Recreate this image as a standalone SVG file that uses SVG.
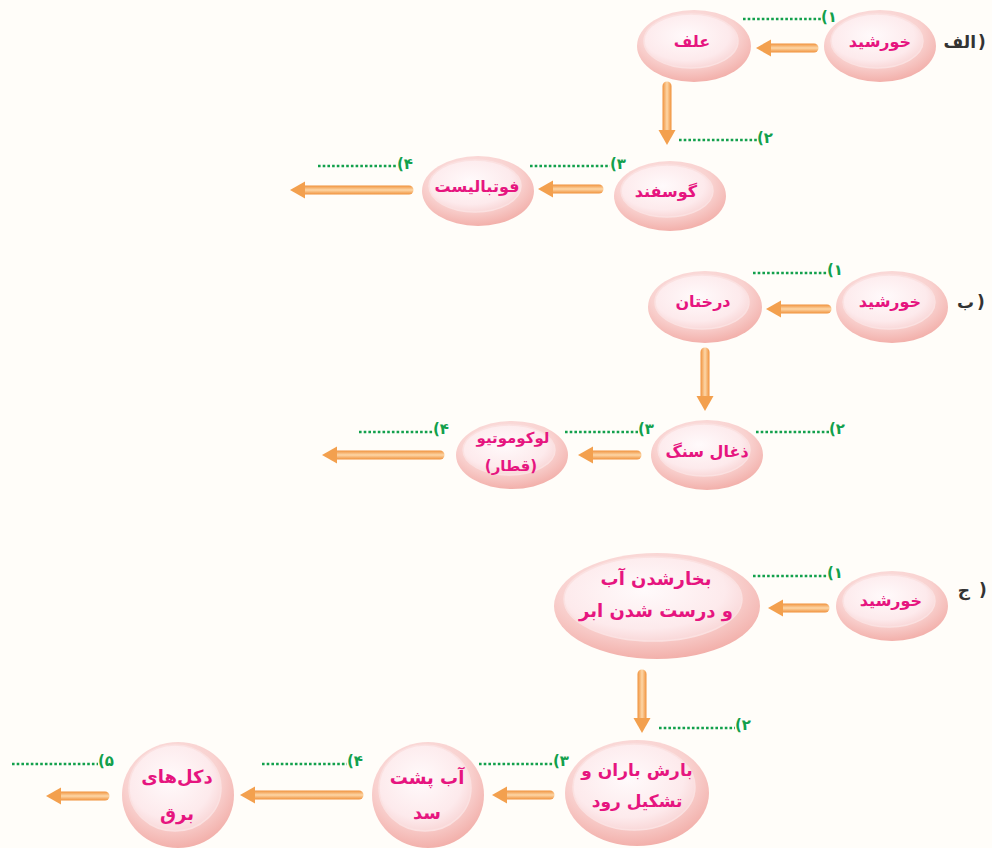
<svg xmlns="http://www.w3.org/2000/svg" width="992" height="848" viewBox="0 0 992 848">
  <defs>
    <radialGradient id="gOuter" cx="45%" cy="35%" r="70%">
      <stop offset="0" stop-color="#fdeced"/>
      <stop offset="0.6" stop-color="#f9d2d0"/>
      <stop offset="1" stop-color="#f1a9a3"/>
    </radialGradient>
    <radialGradient id="gInner" cx="45%" cy="40%" r="65%">
      <stop offset="0" stop-color="#fffafb"/>
      <stop offset="0.7" stop-color="#fdeaec"/>
      <stop offset="1" stop-color="#f8d3d3"/>
    </radialGradient>
    <linearGradient id="shaftH" x1="0" y1="0" x2="0" y2="1">
      <stop offset="0" stop-color="#f0913b"/>
      <stop offset="0.5" stop-color="#fdd6a6"/>
      <stop offset="1" stop-color="#f0913b"/>
    </linearGradient>
    <linearGradient id="shaftV" x1="0" y1="0" x2="1" y2="0">
      <stop offset="0" stop-color="#f0913b"/>
      <stop offset="0.5" stop-color="#fdd6a6"/>
      <stop offset="1" stop-color="#f0913b"/>
    </linearGradient>
    <style>
      .outer { fill: url(#gOuter); }
      .inner { fill: url(#gInner); stroke: #fbe1e1; stroke-width: 1.5; }
      .lbl { font-family: "DejaVu Sans", sans-serif; font-weight: bold; fill: #e6157f; text-anchor: middle; }
      .sec { font-family: "DejaVu Sans", sans-serif; font-weight: bold; fill: #333333; font-size: 17px; }
      .word { text-anchor: end; }
      .par { direction: ltr; unicode-bidi: bidi-override; text-anchor: start; }
      .num { font-family: "DejaVu Sans", sans-serif; font-weight: bold; fill: #12a04c; font-size: 15px; }
      .dots { stroke: #12a04c; stroke-width: 2.6; stroke-dasharray: 2.6 2.1; fill: none; }
      .sh { fill: url(#shaftH); }
      .sv { fill: url(#shaftV); }
      .hd { fill: #f3a04e; }
    </style>
  </defs>

  <rect width="992" height="848" fill="#fffdf9"/>

  <!-- section letters: word, then a closing bracket on its right -->
  <g id="sections">
    <text class="sec word" x="976" y="48">الف</text>
    <text class="sec par" x="978" y="48">)</text>
    <text class="sec word" x="974" y="308">ب</text>
    <text class="sec par" x="977" y="308">)</text>
    <text class="sec word" x="970" y="596">ج</text>
    <text class="sec par" x="979" y="596">)</text>
  </g>

  <!-- connectors: gradient shaft + solid head -->
  <g id="connectors">
    <!-- row A -->
    <path class="sh" d="M769 43.5 L814 43.5 a4.5 4.5 0 0 1 0 9 L769 52.5 Z"/>
    <path class="hd" d="M756 48 L771 39.5 L771 56.5 Z"/>
    <path class="sv" d="M662.5 132 L662.5 86 a4.5 4.5 0 0 1 9 0 L671.5 132 Z"/>
    <path class="hd" d="M667 145 L658.5 130 L675.5 130 Z"/>
    <path class="sh" d="M551 184.5 L599 184.5 a4.5 4.5 0 0 1 0 9 L551 193.5 Z"/>
    <path class="hd" d="M538 189 L553 180.5 L553 197.5 Z"/>
    <path class="sh" d="M303 185.5 L409 185.5 a4.5 4.5 0 0 1 0 9 L303 194.5 Z"/>
    <path class="hd" d="M290 190 L305 181.5 L305 198.5 Z"/>
    <!-- row B -->
    <path class="sh" d="M779 304.5 L827 304.5 a4.5 4.5 0 0 1 0 9 L779 313.5 Z"/>
    <path class="hd" d="M766 309 L781 300.5 L781 317.5 Z"/>
    <path class="sv" d="M700.5 398 L700.5 352 a4.5 4.5 0 0 1 9 0 L709.5 398 Z"/>
    <path class="hd" d="M705 411 L696.5 396 L713.5 396 Z"/>
    <path class="sh" d="M591 450.5 L637 450.5 a4.5 4.5 0 0 1 0 9 L591 459.5 Z"/>
    <path class="hd" d="M578 455 L593 446.5 L593 463.5 Z"/>
    <path class="sh" d="M335 450.5 L440 450.5 a4.5 4.5 0 0 1 0 9 L335 459.5 Z"/>
    <path class="hd" d="M322 455 L337 446.5 L337 463.5 Z"/>
    <!-- row C -->
    <path class="sh" d="M781 603.5 L825 603.5 a4.5 4.5 0 0 1 0 9 L781 612.5 Z"/>
    <path class="hd" d="M768 608 L783 599.5 L783 616.5 Z"/>
    <path class="sv" d="M637.5 720 L637.5 674 a4.5 4.5 0 0 1 9 0 L646.5 720 Z"/>
    <path class="hd" d="M642 733 L633.5 718 L650.5 718 Z"/>
    <path class="sh" d="M505 790.5 L550 790.5 a4.5 4.5 0 0 1 0 9 L505 799.5 Z"/>
    <path class="hd" d="M492 795 L507 786.5 L507 803.5 Z"/>
    <path class="sh" d="M253 790.5 L359 790.5 a4.5 4.5 0 0 1 0 9 L253 799.5 Z"/>
    <path class="hd" d="M240 795 L255 786.5 L255 803.5 Z"/>
    <path class="sh" d="M59 791.5 L105 791.5 a4.5 4.5 0 0 1 0 9 L59 800.5 Z"/>
    <path class="hd" d="M46 796 L61 787.5 L61 804.5 Z"/>
  </g>

  <!-- blanks with numbers -->
  <g id="blanks">
    <line class="dots" x1="743" y1="19" x2="821" y2="19"/>
    <text class="num" x="821" y="22">(۱</text>
    <line class="dots" x1="679" y1="140" x2="757" y2="140"/>
    <text class="num" x="757" y="143">(۲</text>
    <line class="dots" x1="530" y1="166" x2="610" y2="166"/>
    <text class="num" x="610" y="169">(۳</text>
    <line class="dots" x1="318" y1="166" x2="397" y2="166"/>
    <text class="num" x="397" y="169">(۴</text>

    <line class="dots" x1="753" y1="273" x2="827" y2="273"/>
    <text class="num" x="827" y="275">(۱</text>
    <line class="dots" x1="756" y1="432" x2="829" y2="432"/>
    <text class="num" x="829" y="434">(۲</text>
    <line class="dots" x1="565" y1="432" x2="638" y2="432"/>
    <text class="num" x="638" y="434">(۳</text>
    <line class="dots" x1="359" y1="432" x2="433" y2="432"/>
    <text class="num" x="433" y="434">(۴</text>

    <line class="dots" x1="753" y1="576" x2="827" y2="576"/>
    <text class="num" x="827" y="578">(۱</text>
    <line class="dots" x1="659" y1="728" x2="735" y2="728"/>
    <text class="num" x="735" y="730">(۲</text>
    <line class="dots" x1="479" y1="764" x2="553" y2="764"/>
    <text class="num" x="553" y="766">(۳</text>
    <line class="dots" x1="262" y1="764" x2="347" y2="764"/>
    <text class="num" x="347" y="766">(۴</text>
    <line class="dots" x1="12" y1="764" x2="98" y2="764"/>
    <text class="num" x="98" y="766">(۵</text>
  </g>

  <!-- row A nodes -->
  <g id="a-sun">
    <ellipse class="outer" cx="880" cy="46" rx="56" ry="36"/>
    <ellipse class="inner" cx="877" cy="41" rx="46" ry="27"/>
    <text class="lbl" x="880" y="47" font-size="16">خورشید</text>
  </g>
  <g id="a-grass">
    <ellipse class="outer" cx="694" cy="46" rx="57" ry="36"/>
    <ellipse class="inner" cx="691" cy="41" rx="47" ry="27"/>
    <text class="lbl" x="692" y="47" font-size="16">علف</text>
  </g>
  <g id="a-sheep">
    <ellipse class="outer" cx="670" cy="196" rx="56" ry="35"/>
    <ellipse class="inner" cx="667" cy="191" rx="46" ry="26"/>
    <text class="lbl" x="666" y="197" font-size="16">گوسفند</text>
  </g>
  <g id="a-player">
    <ellipse class="outer" cx="478" cy="191" rx="56" ry="35"/>
    <ellipse class="inner" cx="475" cy="186" rx="46" ry="26"/>
    <text class="lbl" x="477" y="192" font-size="16">فوتبالیست</text>
  </g>

  <!-- row B nodes -->
  <g id="b-sun">
    <ellipse class="outer" cx="892" cy="307" rx="56" ry="36"/>
    <ellipse class="inner" cx="889" cy="302" rx="46" ry="27"/>
    <text class="lbl" x="890" y="307" font-size="16">خورشید</text>
  </g>
  <g id="b-trees">
    <ellipse class="outer" cx="705" cy="307" rx="57" ry="36"/>
    <ellipse class="inner" cx="702" cy="302" rx="47" ry="27"/>
    <text class="lbl" x="703" y="307" font-size="16">درختان</text>
  </g>
  <g id="b-coal">
    <ellipse class="outer" cx="707" cy="455" rx="56" ry="35"/>
    <ellipse class="inner" cx="704" cy="450" rx="46" ry="26"/>
    <text class="lbl" x="707" y="457" font-size="16">ذغال سنگ</text>
  </g>
  <g id="b-train">
    <ellipse class="outer" cx="512" cy="455" rx="56" ry="34"/>
    <ellipse class="inner" cx="509" cy="450" rx="46" ry="25"/>
    <text class="lbl" x="513" y="443" font-size="15">لوکوموتیو</text>
    <text class="lbl" x="511" y="471" font-size="15">(قطار)</text>
  </g>

  <!-- row C nodes -->
  <g id="c-sun">
    <ellipse class="outer" cx="892" cy="606" rx="56" ry="35"/>
    <ellipse class="inner" cx="889" cy="601" rx="46" ry="26"/>
    <text class="lbl" x="891" y="606" font-size="16">خورشید</text>
  </g>
  <g id="c-evap">
    <ellipse class="outer" cx="657" cy="606" rx="103" ry="53"/>
    <ellipse class="inner" cx="653" cy="599" rx="89" ry="42"/>
    <text class="lbl" x="656" y="585" font-size="18">بخارشدن آب</text>
    <text class="lbl" x="656" y="617" font-size="18">و درست شدن ابر</text>
  </g>
  <g id="c-rain">
    <ellipse class="outer" cx="637" cy="793" rx="72" ry="53"/>
    <ellipse class="inner" cx="634" cy="787" rx="61" ry="43"/>
    <text class="lbl" x="637" y="776" font-size="17">بارش باران و</text>
    <text class="lbl" x="637" y="807" font-size="17">تشکیل رود</text>
  </g>
  <g id="c-dam">
    <ellipse class="outer" cx="428" cy="795" rx="56" ry="53"/>
    <ellipse class="inner" cx="425" cy="788" rx="46" ry="43"/>
    <text class="lbl" x="427" y="784" font-size="18">آب پشت</text>
    <text class="lbl" x="427" y="819" font-size="18">سد</text>
  </g>
  <g id="c-pylons">
    <ellipse class="outer" cx="178" cy="795" rx="56" ry="53"/>
    <ellipse class="inner" cx="175" cy="788" rx="46" ry="43"/>
    <text class="lbl" x="177" y="783" font-size="18">دکل‌های</text>
    <text class="lbl" x="177" y="820" font-size="18">برق</text>
  </g>
</svg>
